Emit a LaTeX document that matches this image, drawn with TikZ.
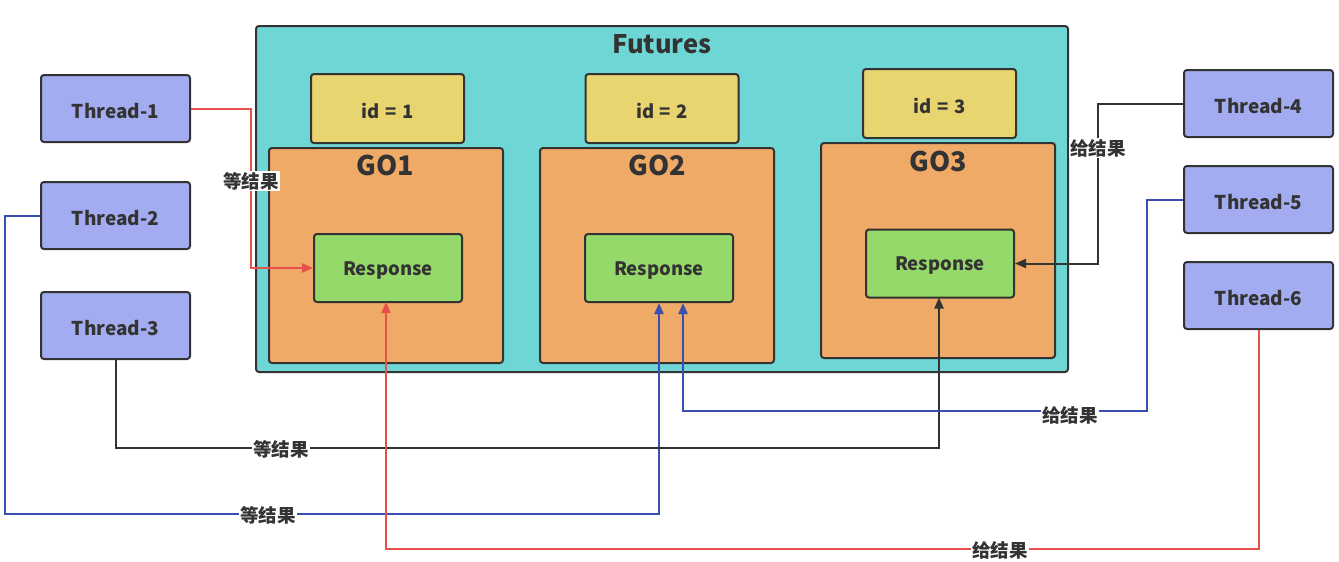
\documentclass[tikz,border=0pt]{standalone}
\usepackage{fontspec}
\setmainfont{Noto Sans CJK SC}
\usetikzlibrary{arrows.meta,calc}
\definecolor{teal1}{HTML}{6FD6D6}
\definecolor{yel}{HTML}{E8D56F}
\definecolor{ora}{HTML}{F0AA67}
\definecolor{grn}{HTML}{95D96A}
\definecolor{thr}{HTML}{A3ACF0}
\definecolor{ink}{HTML}{333333}
\definecolor{redl}{HTML}{E8504C}
\definecolor{bluel}{HTML}{3A50B0}
\newcommand\lwrtxt[1]{\raisebox{-2.5pt}[\height][\depth]{#1}}
\tikzset{
  box/.style={draw=ink, line width=2pt, rounded corners=3pt, align=center, text=ink, font=\bfseries\fontsize{18.5}{22}\selectfont, inner sep=0pt},
  thread/.style={box, fill=thr, minimum width=149pt, minimum height=67pt, font=\bfseries\fontsize{19}{22}\selectfont},
  idbox/.style={box, fill=yel, minimum width=153pt, minimum height=69pt},
  gobox/.style={box, fill=ora, minimum width=234pt, minimum height=215pt},
  resp/.style={box, fill=grn, minimum width=148pt, minimum height=68pt},
  conn/.style={line width=2pt, -{Triangle[length=11pt,width=9pt]}},
  lbl/.style={fill=white, text=ink, inner sep=1pt, font=\bfseries\fontsize{18.5}{22}\selectfont},
  ttl/.style={text=ink, font=\bfseries\fontsize{27}{31}\selectfont, inner sep=0pt}
}
\begin{document}
\begin{tikzpicture}[x=1pt,y=-1pt]
\useasboundingbox (0,0) rectangle (1339,562);
\node[box, fill=teal1, minimum width=812pt, minimum height=346pt] (fut) at (662,199) {};
\node[ttl, font=\bfseries\fontsize{25.5}{30}\selectfont] (futt) at (662,44) {Futures};
% id boxes
\node[idbox] (id1) at (387.5,108.5) {\lwrtxt{id\hspace{0.3em}=\hspace{0.3em}1}};
\node[idbox] (id2) at (662,108.5) {\lwrtxt{id\hspace{0.3em}=\hspace{0.3em}2}};
\node[idbox] (id3) at (939.5,103.5) {\lwrtxt{id\hspace{0.3em}=\hspace{0.3em}3}};
% GO boxes
\node[gobox] (go1) at (386,255.5) {};
\node[gobox] (go2) at (657,255.5) {};
\node[gobox] (go3) at (938,250.5) {};
\node[ttl] (go1t) at (385,165) {GO1};
\node[ttl] (go2t) at (657,165) {GO2};
\node[ttl] (go3t) at (938,161) {GO3};
% responses
\node[resp] (r1) at (388,268) {\lwrtxt{Response}};
\node[resp] (r2) at (659,268) {\lwrtxt{Response}};
\node[resp] (r3) at (940,263.5) {\lwrtxt{Response}};
% threads
\node[thread] (t1) at (115.5,108.5) {\lwrtxt{Thread-1}};
\node[thread] (t2) at (115.5,215.5) {\lwrtxt{Thread-2}};
\node[thread] (t3) at (115.5,325.5) {\lwrtxt{Thread-3}};
\node[thread] (t4) at (1258.5,103.5) {\lwrtxt{Thread-4}};
\node[thread] (t5) at (1258.5,199.5) {\lwrtxt{Thread-5}};
\node[thread] (t6) at (1258.5,295.5) {\lwrtxt{Thread-6}};
% connectors
\draw[conn, redl] (t1.east) -| (251,268) -- (r1.west);
\node[lbl] (l1) at (251,181) {等结果};
\draw[conn, bluel] (t2.west) -| (5,514) -| (r2.south);
\node[lbl] (l2) at (268,515) {等结果};
\draw[conn, ink] (t3.south) |- (939,448) -- (939,297.5);
\node[lbl] (l3) at (281,449) {等结果};
\draw[conn, ink] (t4.west) -| (1098,263.5) -- (r3.east);
\node[lbl] (l4) at (1098,148) {给结果};
\draw[conn, bluel] (t5.west) -| (1147,411) -| ([xshift=24pt]r2.south);
\node[lbl] (l5) at (1070,415) {给结果};
\draw[conn, redl] (t6.south) |- (386,549) -- (386,302);
\node[lbl] (l6) at (1000,550) {给结果};
\end{tikzpicture}
\end{document}
